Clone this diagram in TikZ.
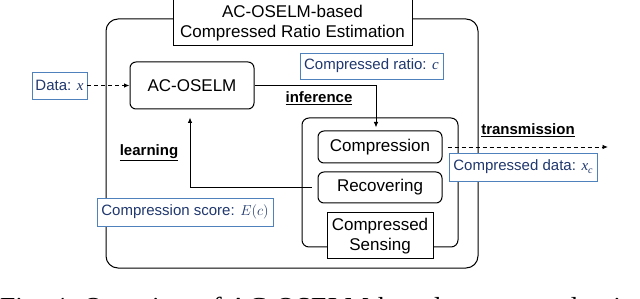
\documentclass[tikz,border=0pt]{standalone}
\usepackage{fontspec}
\setmainfont{Liberation Sans}
\newfontfamily\capfont{Liberation Serif}
\usetikzlibrary{arrows.meta}
\definecolor{bluebd}{RGB}{79,129,189}
\definecolor{bluetx}{RGB}{32,56,110}
\newcommand{\mv}[1]{{\capfont\itshape #1}}
\begin{document}
\begin{tikzpicture}[x=1pt,y=-1pt,
  blk/.style={draw=black,line width=1pt,inner sep=0pt,fill=white},
  rbox/.style={blk,rounded corners=6pt},
  big/.style={font=\fontsize{17}{20}\selectfont},
  lbl/.style={draw=bluebd,line width=0.9pt,fill=white,text=bluetx,inner sep=0pt,font=\fontsize{15}{18}\selectfont},
  tag/.style={font=\fontsize{15}{18}\selectfont\bfseries,inner sep=0pt},
  arr/.style={line width=0.9pt,-{Latex[length=5.5pt,width=4.5pt]}},
  darr/.style={arr,dash pattern=on 4pt off 3pt}]
\useasboundingbox (0,0) rectangle (640,299);
\clip (0,0) rectangle (640,299);
% outer frame
\draw[line width=1pt,rounded corners=12pt] (106,19) rectangle (478,268);
\node[blk,big,align=center,minimum width=239pt,minimum height=46pt] (title) at (292.5,23)
  {AC-OSELM-based\\Compressed Ratio Estimation};
% inner frame
\draw[line width=1pt,rounded corners=7pt] (302,118) rectangle (458,247);
\node[rbox,big,minimum width=124pt,minimum height=47pt] (aco) at (192,85.5) {AC-OSELM};
\node[rbox,big,minimum width=124pt,minimum height=32pt] (comp) at (380,147) {Compression};
\node[rbox,big,minimum width=124pt,minimum height=31pt] (rec) at (380,187.5) {Recovering};
\node[blk,big,align=center,minimum width=106pt,minimum height=46pt] (cs) at (380,236) {Compressed\\Sensing};
% labels
\node[lbl,minimum width=55pt,minimum height=27pt] (data) at (59.5,85.5) {Data: \mv{x}};
\node[lbl,minimum width=143pt,minimum height=26pt] (ratio) at (371.5,66) {Compressed ratio: \mv{c}};
\node[lbl,minimum width=148pt,minimum height=28pt] (cdata) at (523,167) {Compressed data: \mv{x}\raisebox{-3pt}{\fontsize{10}{10}\selectfont\mv{c}}};
\node[lbl,minimum width=176pt,minimum height=28pt] (score) at (185,212) {Compression score: $E(c)$};
\node[tag] (inf) at (319,98) {\underline{inference}};
\node[tag] (learn) at (149,153) {\underline{learning}};
\node[tag] (trans) at (528,130) {\underline{transmission}};
% connectors
\coordinate (txend) at (608,147);
\draw[darr] (data.east) -- (aco.west);
\draw[arr,shorten >=3pt] (aco.east) -| ([xshift=-4pt]comp.north);
\draw[arr,shorten <=6pt,shorten >=8pt] (rec.west) -| ([xshift=-2pt]aco.south);
\draw[darr,shorten <=5pt] (comp.east) -- (txend);
% caption (cut off in the reference)
\node[anchor=base west,inner sep=0pt,font=\capfont\fontsize{27.5}{30}\selectfont] (cap) at (0,316)
  {Fig. 4: Overview of AC-OSELM-based compressed ratio estimation};
\end{tikzpicture}
\end{document}
